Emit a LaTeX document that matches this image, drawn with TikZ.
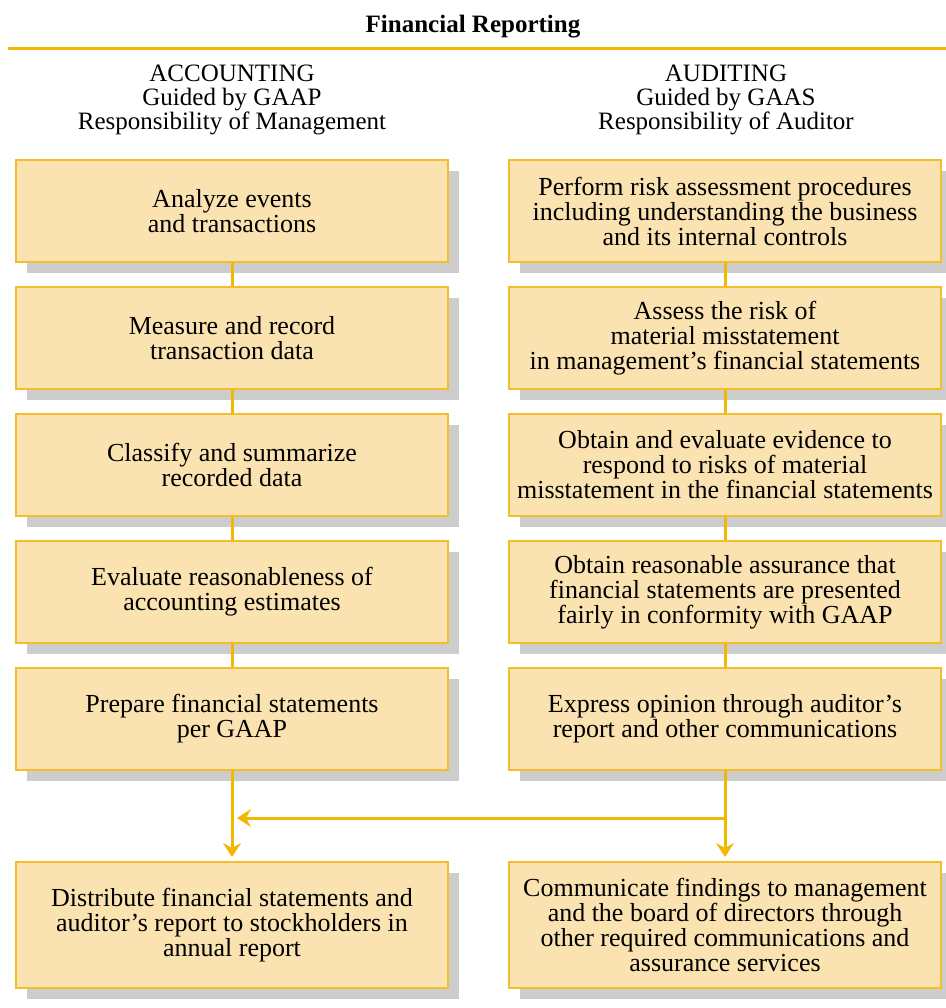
\documentclass[tikz,border=0pt]{standalone}
\usepackage{fontspec}
\setmainfont{Liberation Serif}
\usetikzlibrary{positioning, shadows, arrows.meta}
\definecolor{boxfill}{HTML}{FAE3B0}
\definecolor{boxline}{HTML}{F4BE2A}
\definecolor{gold}{HTML}{F2B700}
\definecolor{shade}{HTML}{CDCDCD}
\tikzset{
  titletext/.style={font=\fontsize{12.5}{12.5}\selectfont\bfseries},
  headtext/.style={align=center, font=\fontsize{12.5}{12}\selectfont},
  stepbox/.style={draw=boxline, line width=1pt, fill=boxfill, rectangle, minimum width=216pt, minimum height=51pt, inner xsep=1pt, align=center, font=\fontsize{13}{12.5}\selectfont, drop shadow={shadow xshift=5.5pt, shadow yshift=-5.5pt, fill=shade, opacity=1}},
  endbox/.style={stepbox, minimum height=63pt},
  link/.style={draw=gold, line width=1.5pt},
  flow/.style={link, shorten >=2pt, -{Stealth[length=7pt, width=9pt, inset=2.5pt]}}
}

\begin{document}
\begin{tikzpicture}[x=0.5pt, y=-0.5pt, node distance=11.5pt and 29.5pt]
\useasboundingbox (0,0) rectangle (946,1008);

% Heading
\node[titletext] (title) at (473,27) {Financial Reporting};
\draw[gold, line width=1.5pt] (8,48) -- (946,48);
\node[headtext] (acc) at (232,100) {ACCOUNTING\\Guided by GAAP\\Responsibility of Management};
\node[headtext] (aud) at (726,100) {AUDITING\\Guided by GAAS\\Responsibility of Auditor};

% Accounting column
\node[stepbox] (a1) at (232,211) {Analyze events\\and transactions};
\node[stepbox, below=of a1] (a2) {Measure and record\\transaction data};
\node[stepbox, below=of a2] (a3) {Classify and summarize\\recorded data};
\node[stepbox, below=of a3] (a4) {Evaluate reasonableness of\\accounting estimates};
\node[stepbox, below=of a4] (a5) {Prepare financial statements\\per GAAP};
\node[endbox, below=45pt of a5] (a6) {Distribute financial statements and\\auditor's report to stockholders in\\annual report};

% Auditing column
\node[stepbox, right=of a1] (b1) {Perform risk assessment procedures\\including understanding the business\\and its internal controls};
\node[stepbox, below=of b1] (b2) {Assess the risk of\\material misstatement\\in management's financial statements};
\node[stepbox, below=of b2] (b3) {Obtain and evaluate evidence to\\respond to risks of material\\misstatement in the financial statements};
\node[stepbox, below=of b3] (b4) {Obtain reasonable assurance that\\financial statements are presented\\fairly in conformity with GAAP};
\node[stepbox, below=of b4] (b5) {Express opinion through auditor's\\report and other communications};
\node[endbox, below=45pt of b5] (b6) {Communicate findings to management\\and the board of directors through\\other required communications and\\assurance services};

% Links
\foreach \i [count=\j from 2] in {1,...,4} {
  \draw[link] (a\i) -- (a\j);
  \draw[link] (b\i) -- (b\j);
}
\draw[flow] (a5) -- (a6);
\draw[flow] (b5) -- (b6);
\coordinate (join) at ([yshift=-23.5pt]b5.south);
\draw[flow, shorten >=2.5pt] (join) -- (join -| a5.south);

\end{tikzpicture}
\end{document}
